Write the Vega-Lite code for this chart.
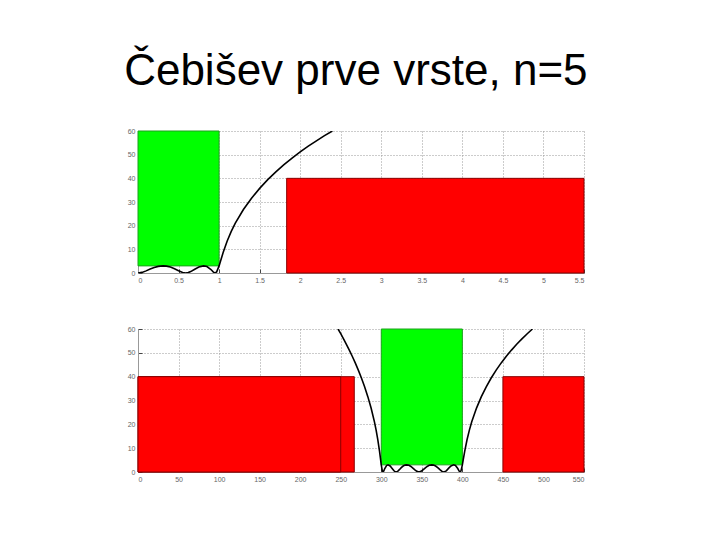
{
  "$schema": "https://vega.github.io/schema/vega-lite/v6.json",
  "background": "white",
  "padding": {"left": 124, "top": 50, "right": 5, "bottom": 5},
  "title": {"text": "Čebišev prve vrste, n=5", "fontSize": 44, "font": "Liberation Sans", "fontWeight": "normal", "anchor": "middle", "color": "black", "offset": 33},
  "config": {
    "view": {"stroke": null},
    "axis": {"labelFontSize": 7, "labelColor": "#666666", "labelFont": "Liberation Sans", "labelOverlap": false, "domainColor": "#999999", "tickColor": "#444444", "tickSize": -4, "labelPadding": 7, "grid": true, "gridColor": "#999999", "gridDash": [1, 2], "title": null}
  },
  "spacing": 42,
  "datasets": {
    "topRects": [
      {"band": "pass", "x0": 0, "x1": 1, "y0": 3, "y1": 60},
      {"band": "stop", "x0": 1.8333, "x1": 5.5, "y0": 0, "y1": 40}
    ],
    "botRects": [
      {"band": "stop", "x0": 0, "x1": 266.7, "y0": 0, "y1": 40},
      {"band": "stop", "x0": 0, "x1": 250, "y0": 0, "y1": 40},
      {"band": "pass", "x0": 300, "x1": 400, "y0": 3, "y1": 60},
      {"band": "stop", "x0": 450, "x1": 550, "y0": 0, "y1": 40}
    ],
    "lp": [
      {"w": 0, "A": 0}, {"w": 0.05, "A": 0.257}, {"w": 0.1, "A": 0.897}, {"w": 0.15, "A": 1.659},
      {"w": 0.2, "A": 2.332}, {"w": 0.25, "A": 2.797}, {"w": 0.309, "A": 3.0}, {"w": 0.35, "A": 2.899},
      {"w": 0.4, "A": 2.498}, {"w": 0.45, "A": 1.818}, {"w": 0.5, "A": 0.965}, {"w": 0.55, "A": 0.219},
      {"w": 0.588, "A": 0}, {"w": 0.62, "A": 0.171}, {"w": 0.65, "A": 0.601}, {"w": 0.7, "A": 1.608},
      {"w": 0.75, "A": 2.527}, {"w": 0.809, "A": 3.0}, {"w": 0.85, "A": 2.711}, {"w": 0.9, "A": 1.454},
      {"w": 0.93, "A": 0.387}, {"w": 0.951, "A": 0}, {"w": 0.97, "A": 0.463}, {"w": 1.0, "A": 3.0},
      {"w": 1.02, "A": 5.261}, {"w": 1.05, "A": 8.639}, {"w": 1.1, "A": 13.52}, {"w": 1.15, "A": 17.57},
      {"w": 1.2, "A": 21.04}, {"w": 1.3, "A": 26.82}, {"w": 1.4, "A": 31.62}, {"w": 1.5, "A": 35.76},
      {"w": 1.6, "A": 39.43}, {"w": 1.7, "A": 42.74}, {"w": 1.8, "A": 45.77}, {"w": 1.9, "A": 48.56},
      {"w": 2.0, "A": 51.15}, {"w": 2.1, "A": 53.58}, {"w": 2.2, "A": 55.86}, {"w": 2.3, "A": 58.02},
      {"w": 2.397, "A": 60}
    ],
    "bp": [
      {"f": 246.71, "A": 60}, {"f": 250.0, "A": 58.02}, {"f": 253.46, "A": 55.86}, {"f": 256.97, "A": 53.58},
      {"f": 260.56, "A": 51.15}, {"f": 264.2, "A": 48.56}, {"f": 267.91, "A": 45.77}, {"f": 271.69, "A": 42.74},
      {"f": 275.53, "A": 39.43}, {"f": 279.44, "A": 35.76}, {"f": 283.41, "A": 31.62}, {"f": 287.45, "A": 26.82},
      {"f": 291.57, "A": 21.04}, {"f": 293.65, "A": 17.57}, {"f": 295.75, "A": 13.52}, {"f": 297.87, "A": 8.639},
      {"f": 299.14, "A": 5.261}, {"f": 300.0, "A": 3.0}, {"f": 301.29, "A": 0.463}, {"f": 302.11, "A": 0},
      {"f": 303.02, "A": 0.387}, {"f": 304.32, "A": 1.454}, {"f": 306.51, "A": 2.711}, {"f": 308.31, "A": 3.0},
      {"f": 310.93, "A": 2.527}, {"f": 313.18, "A": 1.608}, {"f": 315.43, "A": 0.601}, {"f": 316.8, "A": 0.171},
      {"f": 318.26, "A": 0}, {"f": 320.0, "A": 0.219}, {"f": 322.31, "A": 0.965}, {"f": 324.64, "A": 1.818},
      {"f": 326.99, "A": 2.498}, {"f": 329.35, "A": 2.899}, {"f": 331.31, "A": 3.0}, {"f": 334.13, "A": 2.797},
      {"f": 336.55, "A": 2.332}, {"f": 338.99, "A": 1.659}, {"f": 341.45, "A": 0.897}, {"f": 343.92, "A": 0.257},
      {"f": 346.41, "A": 0}, {"f": 348.92, "A": 0.257}, {"f": 351.45, "A": 0.897}, {"f": 353.99, "A": 1.659},
      {"f": 356.55, "A": 2.332}, {"f": 359.13, "A": 2.797}, {"f": 362.21, "A": 3.0}, {"f": 364.35, "A": 2.899},
      {"f": 366.99, "A": 2.498}, {"f": 369.64, "A": 1.818}, {"f": 372.31, "A": 0.965}, {"f": 375.0, "A": 0.219},
      {"f": 377.06, "A": 0}, {"f": 378.8, "A": 0.171}, {"f": 380.43, "A": 0.601}, {"f": 383.18, "A": 1.608},
      {"f": 385.93, "A": 2.527}, {"f": 389.21, "A": 3.0}, {"f": 391.51, "A": 2.711}, {"f": 394.32, "A": 1.454},
      {"f": 396.02, "A": 0.387}, {"f": 397.21, "A": 0}, {"f": 398.29, "A": 0.463}, {"f": 400.0, "A": 3.0},
      {"f": 401.14, "A": 5.261}, {"f": 402.87, "A": 8.639}, {"f": 405.75, "A": 13.52}, {"f": 408.65, "A": 17.57},
      {"f": 411.57, "A": 21.04}, {"f": 417.45, "A": 26.82}, {"f": 423.41, "A": 31.62}, {"f": 429.44, "A": 35.76},
      {"f": 435.53, "A": 39.43}, {"f": 441.69, "A": 42.74}, {"f": 447.91, "A": 45.77}, {"f": 454.2, "A": 48.56},
      {"f": 460.56, "A": 51.15}, {"f": 466.97, "A": 53.58}, {"f": 473.46, "A": 55.86}, {"f": 480.0, "A": 58.02},
      {"f": 486.41, "A": 60}
    ]
  },
  "vconcat": [
    {
      "width": 446,
      "height": 142,
      "layer": [
        {
          "data": {"name": "topRects"},
          "mark": {"type": "rect", "strokeWidth": 1},
          "encoding": {
            "x": {"field": "x0", "type": "quantitative", "scale": {"domain": [0, 5.5], "nice": false, "zero": false}, "axis": {"values": [0, 0.5, 1, 1.5, 2, 2.5, 3, 3.5, 4, 4.5, 5, 5.5], "format": "~g"}},
            "x2": {"field": "x1"},
            "y": {"field": "y0", "type": "quantitative", "scale": {"domain": [0, 60], "nice": false}, "axis": {"values": [0, 10, 20, 30, 40, 50, 60]}},
            "y2": {"field": "y1"},
            "color": {"field": "band", "type": "nominal", "scale": {"domain": ["pass", "stop"], "range": ["#00ff00", "#ff0000"]}, "legend": null},
            "stroke": {"field": "band", "type": "nominal", "scale": {"domain": ["pass", "stop"], "range": ["#1fa01f", "#8a0000"]}, "legend": null}
          }
        },
        {
          "data": {"name": "lp"},
          "mark": {"type": "line", "color": "black", "strokeWidth": 1.6, "clip": true},
          "encoding": {
            "x": {"field": "w", "type": "quantitative", "scale": {"domain": [0, 5.5], "nice": false, "zero": false}, "axis": {"values": [0, 0.5, 1, 1.5, 2, 2.5, 3, 3.5, 4, 4.5, 5, 5.5], "format": "~g"}},
            "y": {"field": "A", "type": "quantitative", "scale": {"domain": [0, 60], "nice": false}, "axis": {"values": [0, 10, 20, 30, 40, 50, 60]}}
          }
        }
      ]
    },
    {
      "width": 446,
      "height": 143,
      "layer": [
        {
          "data": {"name": "botRects"},
          "mark": {"type": "rect", "strokeWidth": 1},
          "encoding": {
            "x": {"field": "x0", "type": "quantitative", "scale": {"domain": [0, 550], "nice": false, "zero": false}, "axis": {"values": [0, 50, 100, 150, 200, 250, 300, 350, 400, 450, 500, 550]}},
            "x2": {"field": "x1"},
            "y": {"field": "y0", "type": "quantitative", "scale": {"domain": [0, 60], "nice": false}, "axis": {"values": [0, 10, 20, 30, 40, 50, 60]}},
            "y2": {"field": "y1"},
            "color": {"field": "band", "type": "nominal", "scale": {"domain": ["pass", "stop"], "range": ["#00ff00", "#ff0000"]}, "legend": null},
            "stroke": {"field": "band", "type": "nominal", "scale": {"domain": ["pass", "stop"], "range": ["#1fa01f", "#8a0000"]}, "legend": null}
          }
        },
        {
          "data": {"name": "bp"},
          "mark": {"type": "line", "color": "black", "strokeWidth": 1.6, "clip": true},
          "encoding": {
            "x": {"field": "f", "type": "quantitative", "scale": {"domain": [0, 550], "nice": false, "zero": false}, "axis": {"values": [0, 50, 100, 150, 200, 250, 300, 350, 400, 450, 500, 550]}},
            "y": {"field": "A", "type": "quantitative", "scale": {"domain": [0, 60], "nice": false}, "axis": {"values": [0, 10, 20, 30, 40, 50, 60]}}
          }
        }
      ]
    }
  ]
}
